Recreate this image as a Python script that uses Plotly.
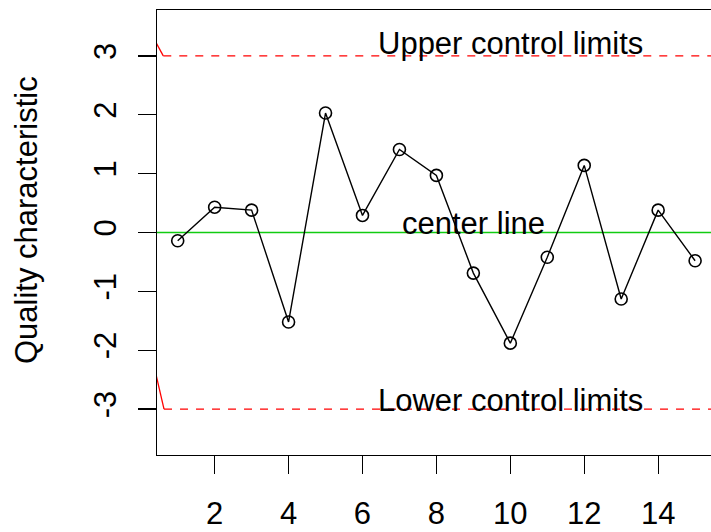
import plotly.graph_objects as go

# ---- data ----
sample = list(range(1, 16))
quality = [-0.14, 0.43, 0.38, -1.52, 2.03, 0.29, 1.41, 0.97, -0.69, -1.88,
           -0.42, 1.14, -1.13, 0.38, -0.48]
center_value = 0.0
ucl_value = 3.0
lcl_value = -3.0
x_ticks = [2, 4, 6, 8, 10, 12, 14]
y_ticks = [-3, -2, -1, 0, 1, 2, 3]
# short solid lead-in segments seen at the left of the limit lines
lead_x = [0.30, 0.61]
upper_lead_y = [3.36, 3.0]
lower_lead_x = [0.30, 0.63]
lower_lead_y = [-2.11, -3.0]
line_end_x = 16.0
label_x_limits = 10
label_x_center = 9

FONT = "Liberation Sans, Arial, sans-serif"
FS = 31

fig = go.Figure()

# control limit lead-ins
fig.add_trace(go.Scatter(x=lead_x, y=upper_lead_y, mode="lines",
                         line=dict(color="#ff0000", width=1.3), hoverinfo="skip"))
fig.add_trace(go.Scatter(x=lower_lead_x, y=lower_lead_y, mode="lines",
                         line=dict(color="#ff0000", width=1.3), hoverinfo="skip"))
# dashed limits
fig.add_trace(go.Scatter(x=[lead_x[1], line_end_x], y=[ucl_value, ucl_value], mode="lines",
                         line=dict(color="#ff0000", width=1.3, dash="8px,8px"), hoverinfo="skip"))
fig.add_trace(go.Scatter(x=[lower_lead_x[1], line_end_x], y=[lcl_value, lcl_value], mode="lines",
                         line=dict(color="#ff0000", width=1.3, dash="8px,8px"), hoverinfo="skip"))
# center line
fig.add_trace(go.Scatter(x=[0, line_end_x], y=[center_value, center_value], mode="lines",
                         line=dict(color="#11cc11", width=1.4), hoverinfo="skip"))
# data
fig.add_trace(go.Scatter(x=sample, y=quality, mode="lines+markers",
                         line=dict(color="black", width=1.4),
                         marker=dict(symbol="circle-open", size=12, color="black",
                                     line=dict(color="black", width=1.6))))

fig.add_annotation(x=label_x_limits, y=ucl_value, text="Upper control limits",
                   showarrow=False, xanchor="center", yanchor="bottom", yshift=-7,
                   font=dict(family=FONT, size=FS, color="black"))
fig.add_annotation(x=label_x_limits, y=lcl_value, text="Lower control limits",
                   showarrow=False, xanchor="center", yanchor="bottom", yshift=-11,
                   font=dict(family=FONT, size=FS, color="black"))
fig.add_annotation(x=label_x_center, y=center_value, text="center line",
                   showarrow=False, xanchor="center", yanchor="bottom", yshift=-10,
                   font=dict(family=FONT, size=FS, color="black"))
fig.add_annotation(xref="paper", yref="paper", x=0, y=0.528, xshift=-131,
                   text="Quality characteristic", textangle=-90,
                   showarrow=False, xanchor="center", yanchor="middle",
                   font=dict(family=FONT, size=FS, color="black"))

fig.update_layout(
    width=711, height=532,
    margin=dict(l=157, r=0, t=10, b=77, autoexpand=False),
    paper_bgcolor="white", plot_bgcolor="white",
    showlegend=False,
    font=dict(family=FONT, size=FS, color="black"),
)
fig.update_xaxes(range=[0.44, 15.43], tickvals=x_ticks, ticktext=[str(v) for v in x_ticks],
                 showgrid=False, zeroline=False, automargin=False,
                 showline=True, linecolor="black", linewidth=1.3, mirror=True,
                 ticks="outside", ticklen=18, tickwidth=1.3, tickcolor="black",
                 ticklabelstandoff=12,
                 tickfont=dict(family=FONT, size=FS, color="black"))
fig.update_yaxes(range=[-3.78, 3.78], tickvals=y_ticks, ticktext=[str(v) for v in y_ticks],
                 showgrid=False, zeroline=False, automargin=False,
                 showline=True, linecolor="black", linewidth=1.3, mirror=False,
                 ticks="outside", ticklen=18, tickwidth=1.3, tickcolor="black",
                 tickangle=-90, ticklabelstandoff=9,
                 tickfont=dict(family=FONT, size=FS, color="black"))

fig.write_html("out.html",
               config={"displayModeBar": False, "staticPlot": True},
               post_script="document.body.style.margin='0';document.body.style.overflow='hidden';")
